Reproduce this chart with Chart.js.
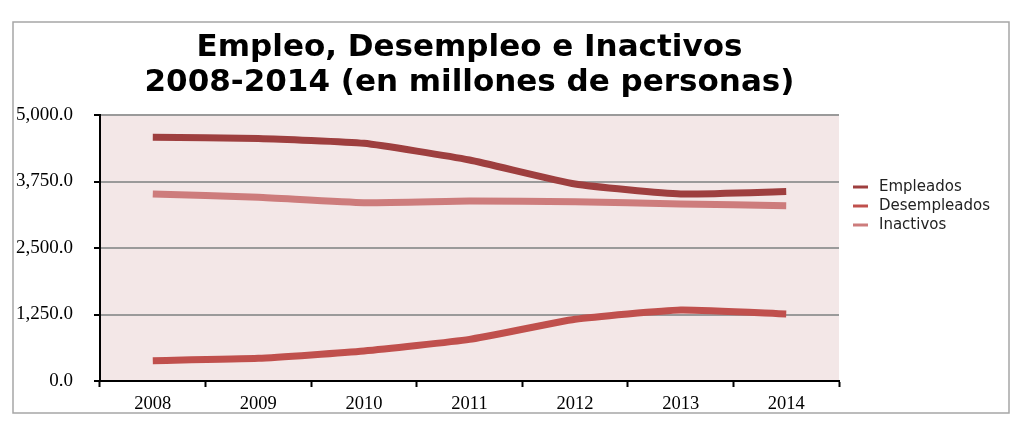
<!DOCTYPE html>
<html>
<head>
<meta charset="utf-8">
<script src="https://cdn.jsdelivr.net/npm/chart.js@4/dist/chart.umd.min.js"></script>
<style>
  html, body { margin: 0; padding: 0; background: #ffffff; }
  #wrap { width: 1024px; height: 424px; position: relative; }
</style>
</head>
<body>
<div id="wrap"><canvas id="c" width="1024" height="424"></canvas></div>
<script>
const titleLines = ["Empleo, Desempleo e Inactivos", "2008-2014 (en millones de personas)"];
const years = ["2008", "2009", "2010", "2011", "2012", "2013", "2014"];
const empleados = [4580, 4560, 4467, 4154, 3703, 3515, 3560];
const desempleados = [382, 426, 564, 783, 1160, 1335, 1260];
const inactivos = [3515, 3453, 3352, 3383, 3371, 3327, 3296];
const seriesNames = ["Empleados", "Desempleados", "Inactivos"];
const yTicks = [0, 1250, 2500, 3750, 5000];

const colors = ["#9e3f3f", "#c0504d", "#cd7c7c"];

const decor = {
  id: 'decor',
  beforeDraw(chart) {
    const ctx = chart.ctx, a = chart.chartArea;
    ctx.save();
    ctx.fillStyle = '#f3e7e7';
    ctx.fillRect(a.left, a.top, a.right - a.left, a.bottom - a.top);
    ctx.strokeStyle = '#a6a6a6';
    ctx.lineWidth = 1.5;
    ctx.strokeRect(13, 22, 996, 391);
    ctx.restore();
  },
  afterDraw(chart) {
    const ctx = chart.ctx, a = chart.chartArea;
    ctx.save();
    // title
    ctx.fillStyle = '#000';
    ctx.font = 'bold 31px "DejaVu Sans"';
    ctx.textAlign = 'center';
    ctx.textBaseline = 'alphabetic';
    const cx = (a.left + a.right) / 2;
    ctx.fillText(titleLines[0], cx, 56);
    ctx.fillText(titleLines[1], cx, 91);
    // legend
    ctx.font = '15px "DejaVu Sans"';
    ctx.textAlign = 'left';
    ctx.textBaseline = 'middle';
    chart.data.datasets.forEach((ds, i) => {
      const y = 187 + i * 19;
      ctx.strokeStyle = ds.borderColor;
      ctx.lineWidth = 3;
      ctx.beginPath();
      ctx.moveTo(853, y);
      ctx.lineTo(868, y);
      ctx.stroke();
      ctx.fillStyle = '#222';
      ctx.fillText(ds.label, 879, y);
    });
    ctx.restore();
  }
};

new Chart(document.getElementById('c'), {
  type: 'line',
  data: {
    labels: years,
    datasets: [
      { label: seriesNames[0], data: empleados, borderColor: colors[0] },
      { label: seriesNames[1], data: desempleados, borderColor: colors[1] },
      { label: seriesNames[2], data: inactivos, borderColor: colors[2] }
    ].map(d => Object.assign(d, { borderWidth: 7, pointRadius: 0, pointHoverRadius: 0, tension: 0.15, fill: false, borderCapStyle: 'butt', borderJoinStyle: 'round' }))
  },
  options: {
    responsive: false,
    animation: false,
    devicePixelRatio: 1,
    layout: { padding: { left: 0, right: 185, top: 115, bottom: 0 } },
    plugins: { legend: { display: false }, title: { display: false }, tooltip: { enabled: false } },
    scales: {
      x: {
        offset: true,
        grid: { offset: true, drawOnChartArea: false, drawTicks: true, tickLength: 6, tickColor: '#000', tickWidth: 2 },
        border: { color: '#000', width: 2 },
        ticks: { color: '#000', font: { family: '"Liberation Serif"', size: 18.5 }, padding: 6, maxRotation: 0 },
        afterFit(s) { s.height = 43; }
      },
      y: {
        min: 0, max: 5000,
        afterBuildTicks(s) { s.ticks = yTicks.map(v => ({ value: v })); },
        grid: { color: '#9a9a9a', lineWidth: 2, drawTicks: true, tickLength: 6, tickColor: '#000', tickWidth: 2 },
        border: { color: '#000', width: 2 },
        ticks: {
          color: '#000', font: { family: '"Liberation Serif"', size: 19 }, padding: 21,
          callback: v => v.toLocaleString('en-US', { minimumFractionDigits: 1, maximumFractionDigits: 1 })
        },
        afterFit(s) { s.width = 100; }
      }
    }
  },
  plugins: [decor]
});
</script>
</body>
</html>
